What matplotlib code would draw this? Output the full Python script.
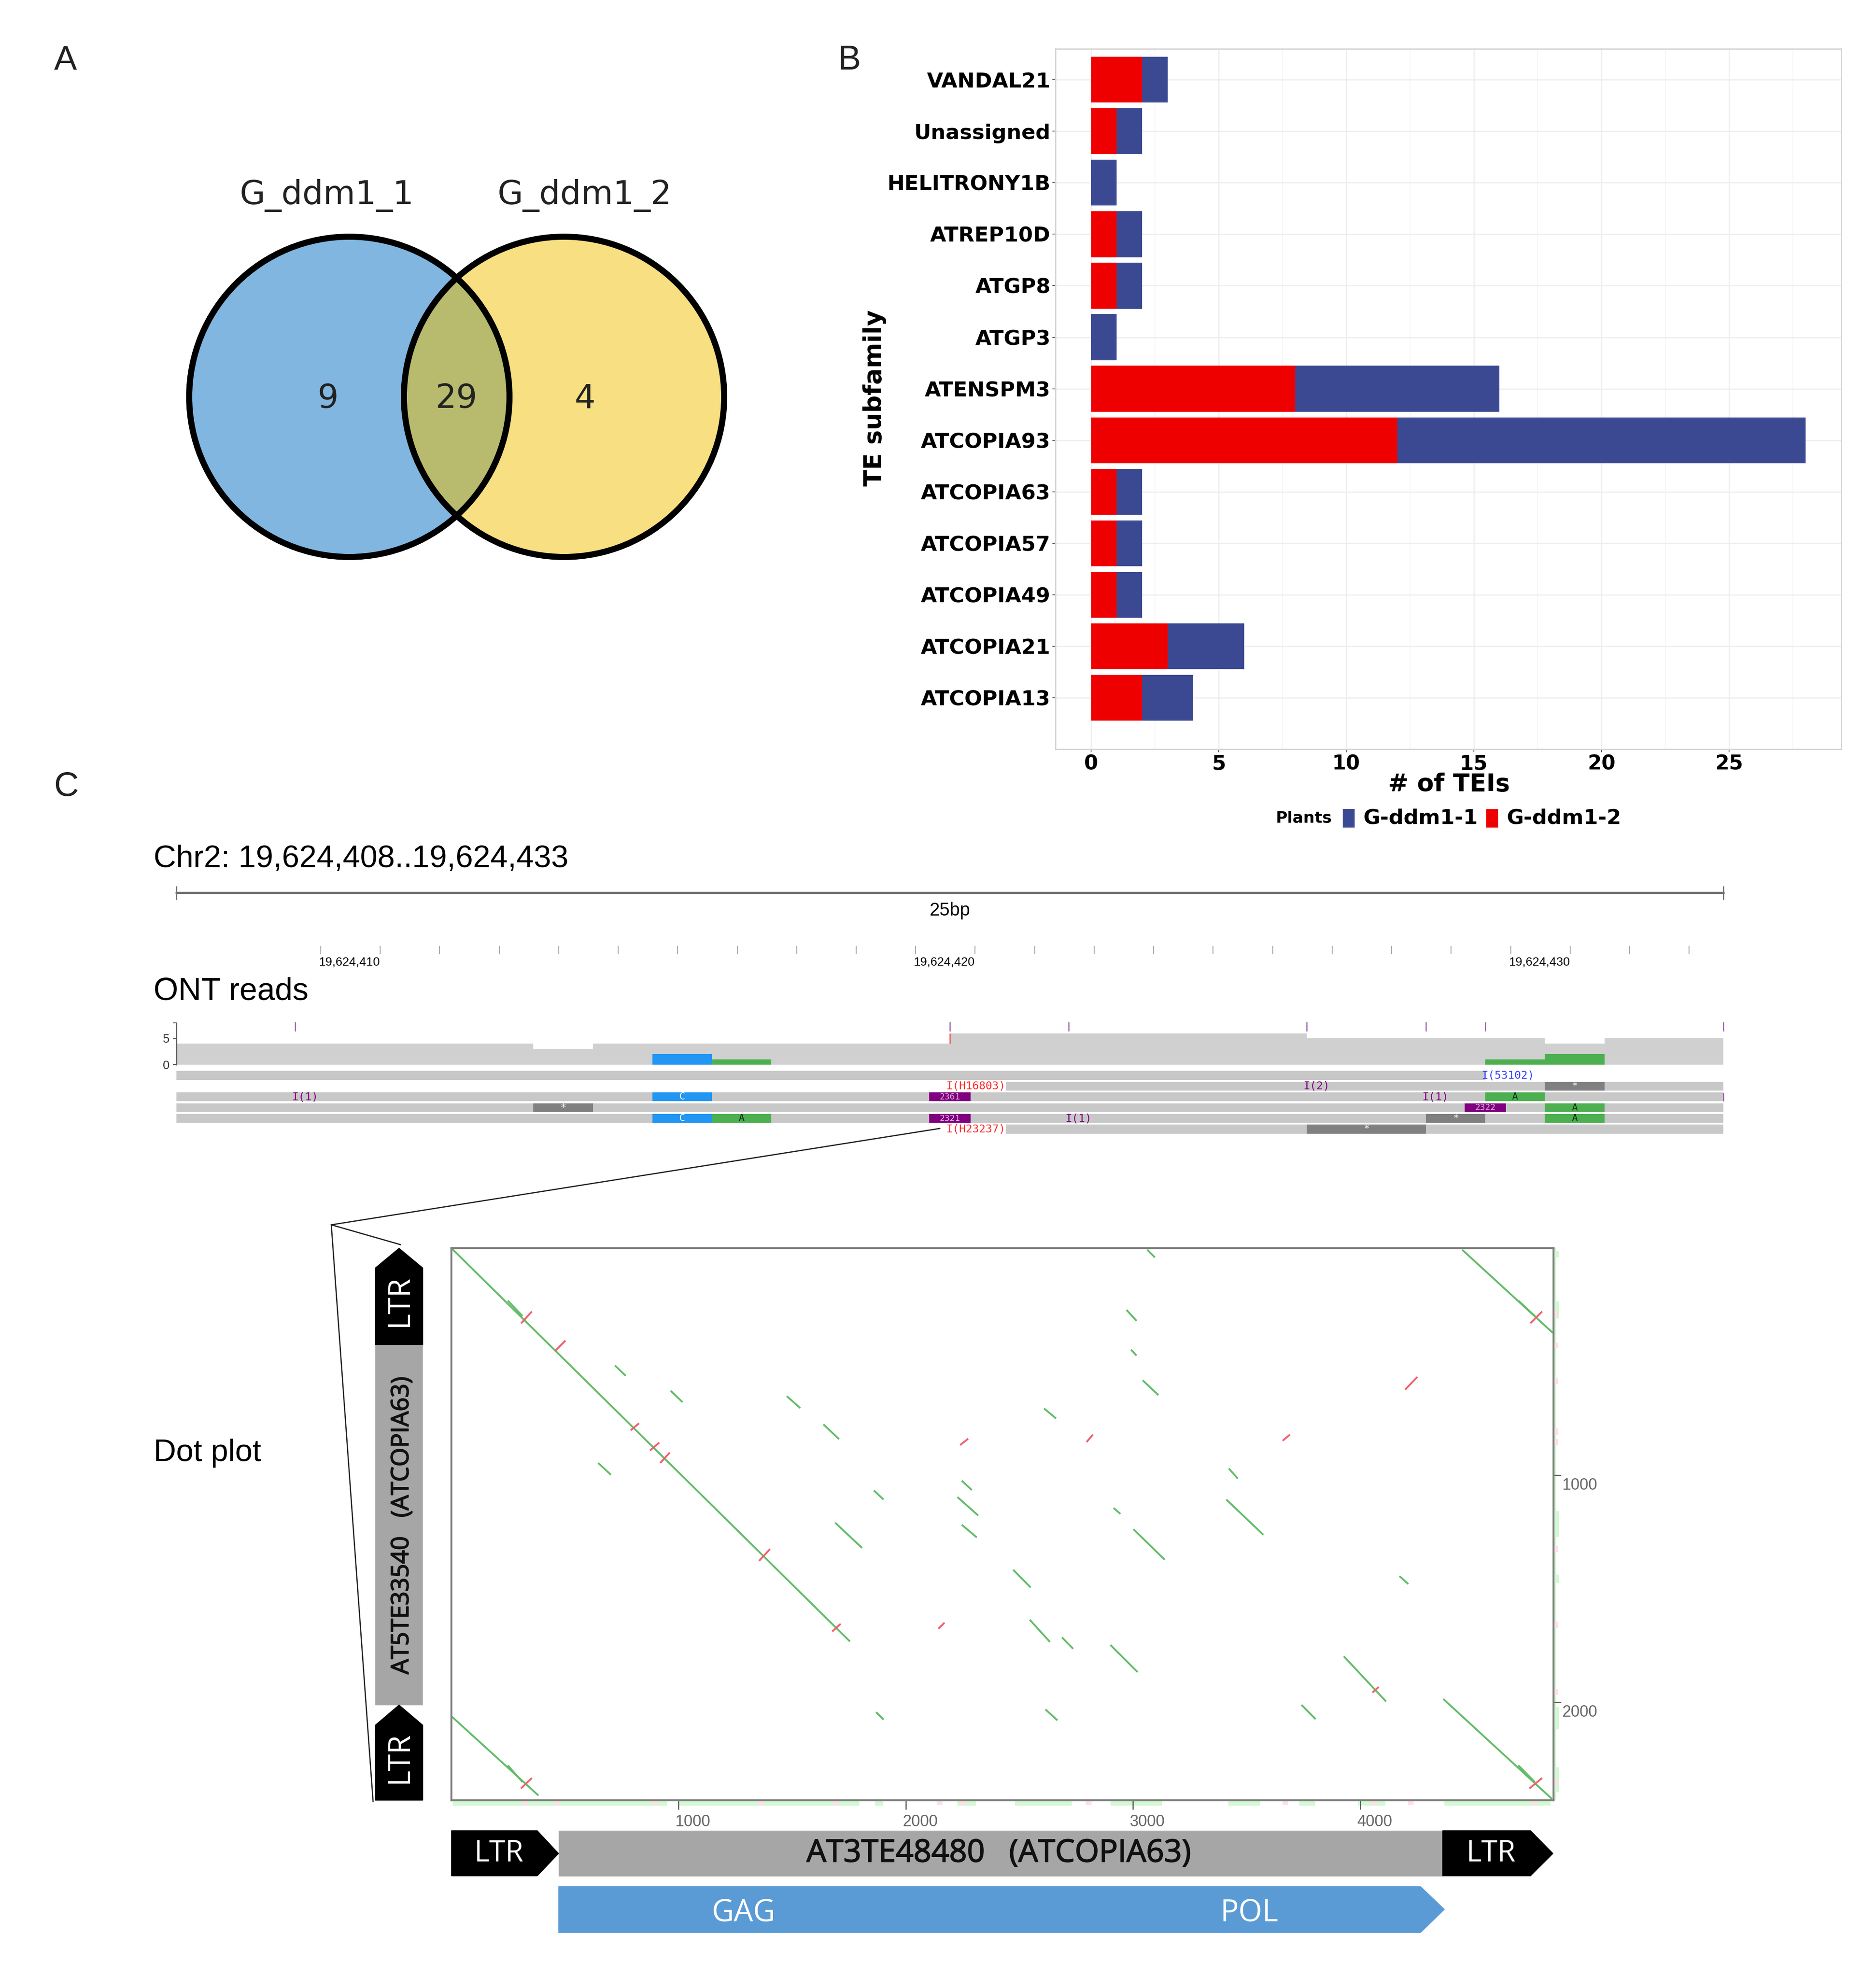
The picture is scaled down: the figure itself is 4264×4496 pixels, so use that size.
import matplotlib
matplotlib.use('Agg')
import matplotlib.pyplot as plt
import matplotlib.patheffects as pe
from matplotlib.patches import Circle, Rectangle
from matplotlib.transforms import ScaledTranslation

W, H = 4264, 4496

# ---- panel A
venn_names = ['G_ddm1_1', 'G_ddm1_2']
venn_counts = [9, 29, 4]

# ---- panel B
subfamilies = ['VANDAL21', 'Unassigned', 'HELITRONY1B', 'ATREP10D', 'ATGP8', 'ATGP3', 'ATENSPM3',
               'ATCOPIA93', 'ATCOPIA63', 'ATCOPIA57', 'ATCOPIA49', 'ATCOPIA21', 'ATCOPIA13']
tei_ddm1_2 = [2, 1, 0, 1, 1, 0, 8, 12, 1, 1, 1, 3, 2]
tei_ddm1_1 = [1, 1, 1, 1, 1, 1, 8, 16, 1, 1, 1, 3, 2]

# ---- panel C, genome browser
ruler_start = 19624407.575
ruler_ticks = list(range(19624410, 19624434))
ruler_labels = {19624410: '19,624,410', 19624420: '19,624,420', 19624430: '19,624,430'}
coverage = [4, 4, 4, 4, 4, 4, 3, 4, 4, 4, 4, 4, 4, 6, 6, 6, 6, 6, 6, 5, 5, 5, 5, 4, 5, 5]
stack_base = [8, 9, 22, 23]
stack_height = [2, 1, 1, 2]
stack_color = ['#2196F3', '#4CAF50', '#4CAF50', '#4CAF50']
ins_marks = [2, 13, 15, 19, 21, 22, 26]
read_start = [0, 13, 0, 0, 0, 13]
read_end = [22, 26, 26, 26, 26, 26]
snp_row = [2, 2, 4, 4, 4, 3]
snp_base = [8, 22, 8, 9, 23, 23]
snp_letter = ['C', 'A', 'C', 'A', 'A', 'A']
del_row = [1, 3, 4, 5]
del_base = [23, 6, 21, 19]
del_len = [1, 1, 1, 2]
ins_row = [0, 1, 1, 2, 2, 4, 5]
ins_base = [22, 13, 19, 2, 21, 15, 13]
ins_text = ['I(53102)', 'I(H16803)', 'I(2)', 'I(1)', 'I(1)', 'I(1)', 'I(H23237)']
ins_color = ['#3344FF', '#FF2A2A', '#800080', '#800080', '#800080', '#800080', '#FF2A2A']
box_row = [2, 3, 4]
box_base = [13, 22, 13]
box_text = ['2361', '2322', '2321']

# ---- panel C, dot plot (x0, y0, x1, y1 in bp)
green_segs = [(0, 0, 1754, 1732), (248, 231, 313, 299), (720, 517, 767, 562), (965, 628, 1017, 678),
              (1476, 652, 1535, 704), (1637, 776, 1706, 841), (646, 946, 702, 998), (1859, 1067, 1902, 1107),
              (1689, 1209, 1807, 1320), (1869, 2043, 1902, 2076), (0, 2061, 383, 2410), (248, 2277, 313, 2351),
              (3062, 7, 3096, 41), (4448, 7, 4847, 373), (4695, 231, 4768, 299), (2971, 272, 3015, 320),
              (2991, 447, 3015, 473), (3042, 582, 3111, 647), (2608, 706, 2661, 750), (3421, 970, 3461, 1015),
              (2246, 1024, 2290, 1065), (2227, 1096, 2318, 1177), (2246, 1218, 2312, 1274), (2914, 1144, 2944, 1170),
              (3410, 1107, 3573, 1262), (3001, 1237, 3139, 1372), (4172, 1444, 4211, 1479), (2472, 1416, 2549, 1494),
              (2545, 1636, 2634, 1734), (2687, 1714, 2736, 1764), (2900, 1747, 3020, 1867), (3927, 1797, 4113, 1996),
              (3741, 2011, 3803, 2074), (2614, 2031, 2667, 2079), (4365, 1985, 4843, 2425), (4695, 2277, 4768, 2351)]
red_segs = [(307, 331, 354, 279), (456, 453, 502, 407), (789, 802, 826, 771), (874, 891, 915, 856),
            (919, 946, 961, 900), (1354, 1377, 1402, 1325), (1676, 1688, 1713, 1654), (306, 2379, 354, 2333),
            (2143, 1676, 2170, 1649), (2239, 867, 2274, 839), (2795, 854, 2823, 821), (3658, 848, 3690, 821),
            (4197, 623, 4251, 567), (4748, 331, 4800, 279), (4053, 1957, 4081, 1932), (4744, 2379, 4800, 2333)]
strip_x_start = [5, 1000, 1864, 2227, 2480, 2901, 3420, 3731, 3990, 4370]
strip_x_end = [948, 1795, 1899, 2307, 2729, 3126, 3558, 3800, 4111, 4837]
strip_x_pink = [326, 465, 897, 1363, 1692, 2148, 2252, 2805, 3670, 4060, 4222, 4768]
strip_y_start = [13, 235, 1159, 1437, 2020, 2286]
strip_y_end = [41, 309, 1270, 1474, 2120, 2397]
strip_y_pink = [290, 429, 586, 808, 854, 1325, 1658, 1954, 2351]
dot_ticks = [1000, 2000, 3000, 4000]

# element spans on the TE maps, in bp
ltr_h = [(0, 378, 472), (4362, 4749, 4848)]
ltr_v = [(0, 87, 425), (2011, 2100, 2431)]
body_h = (472, 4362)
body_v = (425, 2011)
orf = (472, 4265, 4370)


def add_ax(x0, y0, x1, y1, **kw):
    return fig.add_axes([x0 / W, 1 - y1 / H, (x1 - x0) / W, (y1 - y0) / H], **kw)


plt.rcParams['font.family'] = 'DejaVu Sans'
fig = plt.figure(figsize=(W / 100, H / 100), dpi=100, facecolor='white')

over = add_ax(0, 0, W, H, zorder=10)
over.set_xlim(0, W)
over.set_ylim(H, 0)
over.axis('off')
over.patch.set_alpha(0)

LIB = 'Liberation Sans'
for s, x, y in [('A', 123, 138), ('B', 1905, 138), ('C', 123, 1788)]:
    over.text(x, y, s, family=LIB, fontsize=56, color='#222222', ha='left', va='center')

# A: venn
left = Circle((794, 902), 364, fc='#80B6E0', ec='none')
right = Circle((1282, 902), 364, fc='#F8DF82', ec='none')
over.add_patch(left)
over.add_patch(right)
both = Circle((794, 902), 364, fc='#B8BB6E', ec='none')
over.add_patch(both)
both.set_clip_path(right)
for cx in (794, 1282):
    over.add_patch(Circle((cx, 902), 364, fc='none', ec='black', lw=10))
over.text(743, 445, venn_names[0], fontsize=54, color='#222222', ha='center', va='center')
over.text(1329, 445, venn_names[1], fontsize=54, color='#222222', ha='center', va='center')
for cx, n in zip((745, 1037, 1329), venn_counts):
    over.text(cx, 907, str(n), fontsize=54, color='#222222', ha='center', va='center')

# B: stacked bars
ax = add_ax(2399, 111, 4185, 1703)
pos = list(range(len(subfamilies)))
ax.barh(pos, tei_ddm1_2, height=0.89, color='#EE0000', zorder=3)
ax.barh(pos, tei_ddm1_1, height=0.89, left=tei_ddm1_2, color='#3B4992', zorder=3)
ax.set_xlim(-1.4, 29.4)
ax.set_ylim(13.0, -0.6)
ax.set_yticks(pos)
ax.set_yticklabels(subfamilies, fontsize=34, fontweight='bold')
ax.set_xticks([0, 5, 10, 15, 20, 25])
ax.set_xticks([2.5, 7.5, 12.5, 17.5, 22.5, 27.5], minor=True)
ax.set_xticklabels(['0', '5', '10', '15', '20', '25'], fontsize=33, fontweight='bold')
ax.tick_params(axis='both', which='major', length=5, width=1.2, color='#444444', pad=3)
ax.tick_params(axis='x', which='minor', length=0)
ax.grid(which='major', color='#EDEDED', lw=1.8, zorder=0)
ax.grid(which='minor', axis='x', color='#F4F4F4', lw=1.2, zorder=0)
for sp in ax.spines.values():
    sp.set_color('#D4D4D4')
    sp.set_linewidth(2)
over.text(1988, 905, 'TE subfamily', fontsize=40, fontweight='bold', rotation=90, ha='center', va='center')
over.text(3293, 1783, '# of TEIs', fontsize=40, fontweight='bold', ha='center', va='center')
over.text(2900, 1860, 'Plants', fontsize=26, fontweight='bold', ha='left', va='center')
over.add_patch(Rectangle((3052, 1839), 27, 42, fc='#3B4992', ec='none'))
over.text(3099, 1860, 'G-ddm1-1', fontsize=34, fontweight='bold', ha='left', va='center')
over.add_patch(Rectangle((3378, 1839), 27, 42, fc='#EE0000', ec='none'))
over.text(3425, 1860, 'G-ddm1-2', fontsize=34, fontweight='bold', ha='left', va='center')

# C: browser headers
over.text(349, 1953, 'Chr2: 19,624,408..19,624,433', family=LIB, fontsize=51, ha='left', va='center')
over.text(349, 2254, 'ONT reads', family=LIB, fontsize=52, ha='left', va='center')
over.text(349, 3303, 'Dot plot', family=LIB, fontsize=51, ha='left', va='center')

rul = add_ax(401, 2010, 3917, 2200)
rul.set_xlim(ruler_start, ruler_start + 26)
rul.set_ylim(190, 0)
rul.axis('off')
rul.plot([ruler_start, ruler_start + 26], [19, 19], color='#707070', lw=3.5, clip_on=False)
rul.vlines([ruler_start, ruler_start + 26], 4, 35, color='#707070', lw=2, clip_on=False)
rul.text(ruler_start + 13, 60, '25bp', family=LIB, fontsize=30, ha='center', va='center')
rul.vlines(ruler_ticks, 140, 158, color='#AAAAAA', lw=1.6)
for p, lab in ruler_labels.items():
    rul.text(p - 0.03, 178, lab, family=LIB, fontsize=20, ha='left', va='center')

# coverage
cov = add_ax(401, 2310, 3917, 2420)
cov.set_xlim(0, 26)
cov.set_ylim(0, 110 / 11.9)
cov.bar(range(len(coverage)), coverage, width=1, align='edge', color='#D0D0D0', zorder=1)
cov.bar(stack_base, stack_height, width=1, align='edge', color=stack_color, zorder=2)
cov.vlines(ins_marks, 6.4, 8.15, color='#9A5FB0', lw=1.8, clip_on=False, zorder=3)
cov.vlines([13], 4, 6, color='#F05050', lw=1.8, zorder=3)
for name in ('top', 'right', 'bottom'):
    cov.spines[name].set_visible(False)
cov.spines['left'].set_bounds(0, 8)
cov.spines['left'].set_color('#555555')
cov.spines['left'].set_linewidth(1.8)
cov.set_xticks([])
cov.set_yticks([0, 5, 8])
cov.set_yticklabels(['0', '5', ''], family=LIB, fontsize=20, color='#333333')
cov.tick_params(axis='y', length=6, width=1.5, color='#555555', pad=5)
cov.patch.set_alpha(0)

# reads
rd = add_ax(401, 2425, 3917, 2590)
rd.set_xlim(0, 26)
rd.set_ylim((2590 - 2444.5) / 24.4, (2425 - 2444.5) / 24.4)
rd.axis('off')
ROW_H = 0.82
MONO = 'DejaVu Sans Mono'
rd.barh(range(6), [e - s for s, e in zip(read_start, read_end)], left=read_start, height=ROW_H,
        color='#C8C8C8', zorder=1)
for r, b, l in zip(del_row, del_base, del_len):
    rd.barh(r, l, left=b, height=ROW_H, color='#808080', zorder=2)
    rd.text(b + l / 2, r, '*', family=MONO, fontsize=16, color='white', ha='center', va='center', zorder=4)
for r, b, s in zip(snp_row, snp_base, snp_letter):
    c = '#2196F3' if s == 'C' else '#4CAF50'
    rd.barh(r, 1, left=b, height=ROW_H, color=c, zorder=2)
    rd.text(b + 0.5, r, s, family=MONO, fontsize=16, color='white' if s == 'C' else '#103010',
            ha='center', va='center', zorder=4)
for r, b, s in zip(box_row, box_base, box_text):
    rd.barh(r, 0.7, left=b - 0.35, height=ROW_H, color='#800080', zorder=3)
    rd.text(b, r, s, family=MONO, fontsize=14, color='#D9B3D9', ha='center', va='center', zorder=4)
for r, b, s, c in zip(ins_row, ins_base, ins_text, ins_color):
    bb = dict(fc='white', ec='none', pad=0) if c == '#FF2A2A' else None
    rd.text(b - 0.06, r, s, family=MONO, fontsize=18, color=c, ha='left', va='center', zorder=5, bbox=bb)
rd.vlines([26], 1.6, 2.4, color='#A060B0', lw=2, clip_on=False)

# zoom lines
over.plot([2136, 753, 910], [2565, 2784, 2829], color='#222222', lw=2)
over.plot([753, 848], [2784, 4095], color='#222222', lw=2)

# dot plot
dot = add_ax(1026, 2837, 3531, 4092)
dot.set_xlim(0, 4850)
dot.set_ylim(2431, 0)
for sp in dot.spines.values():
    sp.set_color('#808080')
    sp.set_linewidth(3.2)
for x0, y0, x1, y1 in green_segs:
    dot.plot([x0, x1], [y0, y1], color='#62BC68', lw=3, solid_capstyle='butt')
for x0, y0, x1, y1 in red_segs:
    dot.plot([x0, x1], [y0, y1], color='#F0606E', lw=3, solid_capstyle='butt')
# margin density strips
dot.bar(strip_x_start, [24] * len(strip_x_start), width=[e - s for s, e in zip(strip_x_start, strip_x_end)],
        bottom=2431, align='edge', color='#D2F9D2', clip_on=False, zorder=1)
dot.bar(strip_x_pink, [22] * len(strip_x_pink), width=26, bottom=2431, color='#FFE0E5', clip_on=False, zorder=1)
dot.barh(1215, 9, height=2431, left=4850, color='#C6F7C6', clip_on=False, zorder=1)
dot.barh(strip_y_start, [24] * len(strip_y_start), height=[e - s for s, e in zip(strip_y_start, strip_y_end)],
         left=4850, align='edge', color='#D2F9D2', clip_on=False, zorder=1)
dot.barh(strip_y_pink, [20] * len(strip_y_pink), height=26, left=4850, color='#FFE0E5', clip_on=False, zorder=1)
dot.set_xticks(dot_ticks)
dot.set_xticklabels([str(t) for t in dot_ticks], family=LIB, fontsize=26, color='#666666', ha='left')
dot.yaxis.tick_right()
dot.set_yticks(dot_ticks[:2])
dot.set_yticklabels([str(t) for t in dot_ticks[:2]], family=LIB, fontsize=26, color='#666666', va='top')
dot.tick_params(axis='x', length=15, width=1.8, color='#555555', pad=8)
dot.tick_params(axis='y', length=12, width=1.8, color='#555555', pad=2)
# labels sit a little off their ticks
for t in dot.get_xticklabels():
    t.set_transform(t.get_transform() + ScaledTranslation(-0.08, 0, fig.dpi_scale_trans))
for t in dot.get_yticklabels():
    t.set_transform(t.get_transform() + ScaledTranslation(0, -0.06, fig.dpi_scale_trans))

# vertical TE map, same bp scale as the dot plot
semibold = [pe.withStroke(linewidth=1.4, foreground='#111111')]
vmap = add_ax(853, 2837, 961, 4092)
vmap.set_xlim(0, 1)
vmap.set_ylim(2431, 0)
vmap.axis('off')
for tip, shoulder, end in ltr_v:
    vmap.fill([0.5, 1, 1, 0, 0], [tip, shoulder, end, end, shoulder], color='black', clip_on=False, zorder=2)
    vmap.text(0.51, (shoulder + end) / 2 - 22, 'LTR', family='Open Sans', fontsize=50, color='white', rotation=90,
              ha='center', va='center')
vmap.fill([0, 1, 1, 0], [body_v[0], body_v[0], body_v[1], body_v[1]], color='#A6A6A6', zorder=1)
vmap.text(0.56, 1220, 'AT5TE33540   (ATCOPIA63)', family='Open Sans', fontsize=39.5,
          color='#111111', rotation=90, ha='center', va='center', path_effects=semibold)

# horizontal TE map
hmap = add_ax(1026, 4161, 3531, 4394)
hmap.set_xlim(0, 4850)
hmap.set_ylim(233, 0)
hmap.axis('off')
for start, shoulder, tip in ltr_h:
    hmap.fill([start, shoulder, tip, shoulder, start], [0, 0, 52, 103, 103], color='black', clip_on=False, zorder=2)
    hmap.text((start + shoulder) / 2 + 20, 52, 'LTR', family='Open Sans', fontsize=48, color='white',
              ha='center', va='center', zorder=3)
hmap.fill([body_h[0], body_h[1], body_h[1], body_h[0]], [0, 0, 103, 103], color='#A6A6A6', zorder=1)
hmap.text(2410, 52, 'AT3TE48480   (ATCOPIA63)', family='Open Sans', fontsize=51,
          color='#111111', ha='center', va='center', path_effects=semibold)
hmap.fill([orf[0], orf[1], orf[2], orf[1], orf[0]], [127, 127, 179, 232, 232], color='#5B9BD5', zorder=1)
hmap.text(1286, 188, 'GAG', family='Open Sans', fontsize=50, color='white', ha='center', va='center')
hmap.text(3511, 188, 'POL', family='Open Sans', fontsize=50, color='white', ha='center', va='center')

fig.savefig('out.png', dpi=100)
